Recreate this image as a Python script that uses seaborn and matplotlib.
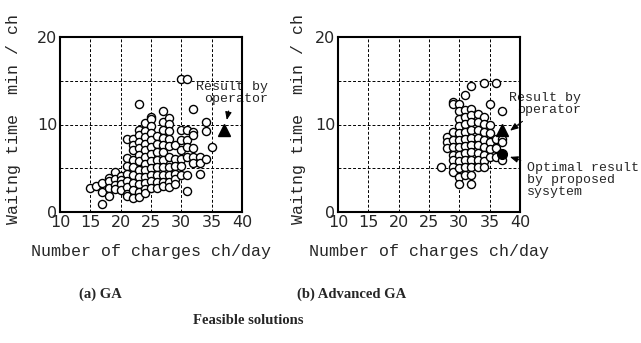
import numpy as np
import pandas as pd
import matplotlib
matplotlib.use("Agg")
import matplotlib.pyplot as plt
import seaborn as sns

# (a) GA - feasible solutions (charges per day, waiting time min/ch)
ga_charges = ([15, 16] + [17] * 3 + [18] * 4 + [19] * 4 + [20] * 4 + [21] * 8 + [22] * 9
              + [23] * 12 + [24] * 12 + [25] * 12 + [26] * 8 + [27] * 11 + [28] * 10
              + [29] * 6 + [30] * 7 + [31] * 7 + [32] * 6 + [33] * 3 + [34] * 3 + [35])
ga_wait = [2.7, 3.0,
           3.3, 2.3, 0.9,
           3.9, 3.5, 2.7, 1.8,
           4.6, 3.8, 3.1, 2.6,
           4.1, 3.7, 3.2, 2.5,
           8.3, 6.2, 5.3, 4.4, 3.6, 2.9, 2.1, 1.8,
           8.3, 7.7, 7.1, 5.9, 5.2, 4.2, 3.3, 2.5, 1.6,
           12.3, 9.4, 8.8, 8.0, 7.3, 6.5, 5.8, 4.8, 4.0, 3.2, 2.3, 1.7,
           10.2, 9.3, 8.6, 7.8, 7.1, 6.3, 5.5, 4.8, 4.0, 3.3, 2.6, 2.2,
           10.9, 10.6, 9.8, 9.0, 8.2, 7.4, 6.6, 5.8, 5.0, 4.2, 3.5, 2.7,
           8.7, 7.8, 6.9, 5.9, 5.1, 4.2, 3.4, 2.8,
           11.5, 10.3, 9.4, 8.5, 7.7, 6.9, 6.0, 5.2, 4.2, 3.4, 3.0,
           10.7, 10.1, 9.3, 8.4, 7.5, 6.3, 5.2, 4.2, 3.4, 2.9,
           7.7, 6.1, 5.3, 4.4, 3.8, 3.2,
           15.2, 9.4, 8.2, 7.1, 6.1, 5.3, 4.2,
           15.2, 9.4, 8.2, 7.4, 6.3, 4.2, 2.4,
           11.8, 9.2, 8.8, 7.3, 6.3, 5.6,
           6.3, 5.6, 4.4,
           10.3, 9.3, 6.1,
           7.4]

# (b) Advanced GA - feasible solutions
adv_charges = ([27] + [28] * 3 + [29] * 9 + [30] * 12 + [31] * 11 + [32] * 12 + [33] * 8
               + [34] * 9 + [35] * 6 + [36] * 4 + [37] * 5)
adv_wait = [5.1,
            8.6, 8.0, 7.3,
            12.6, 12.3, 9.2, 8.2, 7.4, 6.5, 5.9, 5.2, 4.6,
            12.4, 11.5, 10.6, 9.8, 9.0, 8.2, 7.4, 6.5, 5.8, 5.0, 4.0, 3.2,
            13.4, 11.7, 10.9, 10.1, 9.2, 8.4, 7.5, 6.7, 5.9, 5.1, 4.2,
            14.4, 11.8, 11.1, 10.3, 9.4, 8.5, 7.7, 6.9, 6.0, 5.2, 4.2, 3.2,
            11.2, 10.3, 9.4, 8.5, 7.7, 6.7, 5.9, 5.2,
            14.7, 10.9, 10.1, 9.2, 8.2, 7.4, 6.5, 5.8, 5.1,
            12.4, 9.9, 9.0, 8.0, 7.2, 6.3,
            14.7, 8.4, 7.3, 6.3,
            11.5, 8.4, 8.0, 6.5, 5.9]

operator_result = (37, 9.4)
optimal_result = (37, 6.6)

x_ticks = [10, 15, 20, 25, 30, 35, 40]
y_ticks = [0, 10, 20]
y_grid_minor = [5, 15]

sns.set_style("white")
plt.rcParams['font.family'] = ['DejaVu Sans']

fig = plt.figure(figsize=(6.41, 3.43), dpi=100)
ax1 = fig.add_axes([60 / 641, 131 / 343, 182 / 641, 175 / 343])
ax2 = fig.add_axes([338 / 641, 131 / 343, 182 / 641, 175 / 343])

mono = 'Liberation Mono'

for ax, xs, ys in [(ax1, ga_charges, ga_wait), (ax2, adv_charges, adv_wait)]:
    df = pd.DataFrame({'charges': xs, 'wait': ys})
    sns.scatterplot(data=df, x='charges', y='wait', ax=ax, s=34, color='white',
                    edgecolor='black', linewidth=1.0, zorder=3)
    ax.set_xlim(10, 40)
    ax.set_ylim(0, 20)
    ax.set_xticks(x_ticks)
    ax.set_yticks(y_ticks)
    ax.set_yticks(y_grid_minor, minor=True)
    ax.grid(which='both', color='black', linestyle=(0, (3, 2)), linewidth=0.7)
    ax.tick_params(axis='both', which='major', direction='in', length=4,
                   width=1.2, labelsize=11.5, pad=2)
    ax.tick_params(axis='both', which='minor', length=0)
    for sp in ax.spines.values():
        sp.set_color('black')
        sp.set_linewidth(1.5)
        sp.set_zorder(5)
    ax.set_xlabel('Number of charges ch/day', fontsize=12, family=mono, labelpad=10)
    ax.set_ylabel('Waitng time  min / ch', fontsize=12, family=mono)
    ax.plot(*operator_result, marker='^', color='black', markersize=8,
            linestyle='none', zorder=4, clip_on=False)

ax1.yaxis.set_label_coords(-0.215, 0.53)
ax2.yaxis.set_label_coords(-0.175, 0.53)

arrow = dict(arrowstyle='-|>,head_length=0.5,head_width=0.2', color='black', lw=0.8)
ax1.annotate('Result by\noperator', xy=(37.4, 10.2), xytext=(38.4, 13.6),
             ha='center', va='center', multialignment='right', fontsize=9.5,
             family=mono, linespacing=1.0, arrowprops=arrow, annotation_clip=False)

ax2.plot(*optimal_result, marker='o', color='black', markersize=7,
         linestyle='none', zorder=5, clip_on=False)
ax2.annotate('Result by\noperator', xy=(38.0, 9.1), xytext=(44.1, 12.3),
             ha='center', va='center', multialignment='right', fontsize=9.5,
             family=mono, linespacing=1.0, arrowprops=arrow, annotation_clip=False)
ax2.annotate('Optimal result\nby proposed\nsysytem', xy=(37.9, 6.4), xytext=(41.1, 3.6),
             ha='left', va='center', fontsize=9.5, family=mono, linespacing=1.0,
             arrowprops=arrow, annotation_clip=False)

serif = 'Liberation Serif'
fig.text(100 / 641, 1 - 294 / 343, '(a) GA', ha='center', va='center',
         fontsize=10.5, fontweight='bold', family=serif)
fig.text(352 / 641, 1 - 294 / 343, '(b) Advanced GA', ha='center', va='center',
         fontsize=10.5, fontweight='bold', family=serif)
fig.text(248 / 641, 1 - 321 / 343, 'Feasible solutions', ha='center', va='center',
         fontsize=10.5, fontweight='bold', family=serif)

fig.savefig('out.png', dpi=100)
